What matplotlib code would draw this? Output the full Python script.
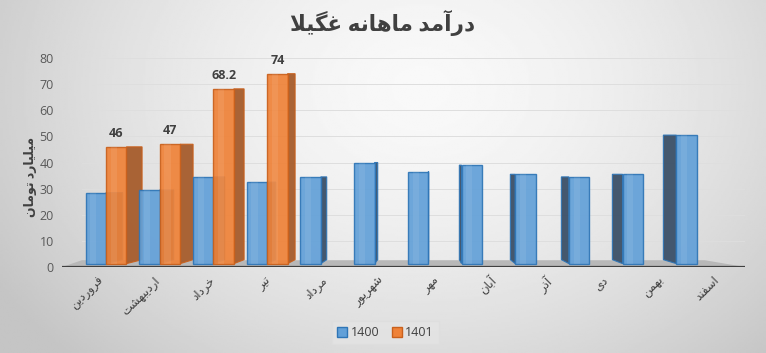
import numpy as np
import matplotlib
matplotlib.use("Agg")
import matplotlib.pyplot as plt
from matplotlib.patches import Polygon, Patch

plt.rcParams['font.family'] = ['Open Sans', 'DejaVu Sans']

# matplotlib has no arabic shaping, so map letters to presentation forms by hand
FORMS = {
    'ا': ('\uFE8D', '\uFE8E'), 'آ': ('\uFE81', '\uFE82'),
    'د': ('\uFEA9', '\uFEAA'), 'ذ': ('\uFEAB', '\uFEAC'),
    'ر': ('\uFEAD', '\uFEAE'), 'ز': ('\uFEAF', '\uFEB0'),
    'و': ('\uFEED', '\uFEEE'),
    'ب': ('\uFE8F', '\uFE90', '\uFE91', '\uFE92'),
    'ت': ('\uFE95', '\uFE96', '\uFE97', '\uFE98'),
    'خ': ('\uFEA5', '\uFEA6', '\uFEA7', '\uFEA8'),
    'س': ('\uFEB1', '\uFEB2', '\uFEB3', '\uFEB4'),
    'ش': ('\uFEB5', '\uFEB6', '\uFEB7', '\uFEB8'),
    'غ': ('\uFECD', '\uFECE', '\uFECF', '\uFED0'),
    'ف': ('\uFED1', '\uFED2', '\uFED3', '\uFED4'),
    'ل': ('\uFEDD', '\uFEDE', '\uFEDF', '\uFEE0'),
    'م': ('\uFEE1', '\uFEE2', '\uFEE3', '\uFEE4'),
    'ن': ('\uFEE5', '\uFEE6', '\uFEE7', '\uFEE8'),
    'ه': ('\uFEE9', '\uFEEA', '\uFEEB', '\uFEEC'),
    'ی': ('\uFBFC', '\uFBFD', '\uFBFE', '\uFBFF'),
    'ي': ('\uFEF1', '\uFEF2', '\uFEF3', '\uFEF4'),
    'گ': ('\uFB92', '\uFB93', '\uFB94', '\uFB95'),
}


def fa(s):
    out = []
    i = 0
    while i < len(s):
        c = s[i]
        if c not in FORMS:
            out.append(c)
            i += 1
            continue
        prev = s[i - 1] if i > 0 else ''
        jp = prev in FORMS and len(FORMS[prev]) == 4
        if c == 'ل' and i + 1 < len(s) and s[i + 1] in 'اآ':
            lig = ('\uFEFB', '\uFEFC') if s[i + 1] == 'ا' else ('\uFEF5', '\uFEF6')
            out.append(lig[1] if jp else lig[0])
            i += 2
            continue
        nxt = s[i + 1] if i + 1 < len(s) else ''
        jn = len(FORMS[c]) == 4 and nxt in FORMS
        f = FORMS[c]
        if jp and jn:
            out.append(f[3])
        elif jp:
            out.append(f[1])
        elif jn:
            out.append(f[2])
        else:
            out.append(f[0])
        i += 1
    return ''.join(out)[::-1]


months = ['فروردین', 'اردیبهشت', 'خرداد', 'تیر', 'مرداد', 'شهریور',
          'مهر', 'آبان', 'آذر', 'دی', 'بهمن', 'اسفند']
v1400 = [28.5, 29.5, 34.5, 32.5, 34.5, 40, 36.5, 39, 35.5, 34.5, 35.5, 50.5]
v1401 = [46, 47, 68.2, 74]
series = ['1400', '1401']
title = 'درآمد ماهانه غگیلا'
ylabel = 'میلیارد تومان'

blue, blue_e, blue_s = '#62a0d8', '#2e75b6', '#3b5068'
orng, orng_e, orng_s = '#ef8238', '#c9601c', '#a65c2c'

fig = plt.figure(figsize=(7.66, 3.53), dpi=100)

# background gradient
bg = fig.add_axes([0, 0, 1, 1], zorder=-10)
X, Y = np.meshgrid(np.linspace(0, 1, 400), np.linspace(0, 1, 200))
d = np.sqrt(((X - 0.55) / 0.6) ** 2 + ((Y - 0.75) / 1.0) ** 2)
g = np.clip(0.975 - 0.18 * d ** 1.6, 0.77, 1)
bg.imshow(g, extent=[0, 1, 0, 1], origin='lower', aspect='auto', cmap='gray', vmin=0, vmax=1)
bg.axis('off')

ax = fig.add_axes([0.081, 0.2436, 0.8916, 0.592])
ax.patch.set_alpha(0)
ax.set_xlim(-0.82, 11.9)
ax.set_ylim(0, 80)
for s in ax.spines.values():
    s.set_visible(False)

for yv in range(10, 81, 10):
    ax.plot([-0.45, 11.9], [yv, yv], color='#dedede', lw=0.7, zorder=0)

# floor
ax.add_patch(Polygon([(-0.82, 0), (11.9, 0), (11.15, 2.6), (-0.45, 2.6)],
                     closed=True, fc='#b8b8b8', ec='none', zorder=1))
ax.plot([-0.82, 11.9], [0, 0], color='#404040', lw=1.6, zorder=1.5)

x = np.arange(len(months))
w = 0.38
base = 1.3
VP = 6.0


def draw_bar(xc, h, fc, ec, sc):
    dd = 0.05 * (VP - xc)
    xe = xc + w / 2 if dd > 0 else xc - w / 2
    ax.add_patch(Polygon([(xe, base), (xe + dd, base + 1.5), (xe + dd, h), (xe, h)],
                         closed=True, fc=sc, ec=ec, lw=0.8, alpha=0.95, zorder=2))
    ax.bar(xc, h - base, w, bottom=base, color=fc, edgecolor=ec, lw=1.0, alpha=0.92, zorder=3)
    ax.bar(xc - w * 0.12, h - base, w * 0.3, bottom=base, color='white', alpha=0.08,
           lw=0, zorder=3.5)


for xi, v in zip(x, v1400):
    draw_bar(xi - w / 2, v, blue, blue_e, blue_s)
for xi, v in zip(x[:len(v1401)], v1401):
    draw_bar(xi + w / 2, v, orng, orng_e, orng_s)
    ax.annotate(f'{v:g}', (xi + w / 2, v), xytext=(0, 5), textcoords='offset points',
                ha='center', va='bottom', fontsize=9, fontweight='bold', color='#404040')

ax.set_yticks(range(0, 81, 10))
ax.tick_params(axis='y', length=0, labelsize=9, labelcolor='#595959', pad=6)
ax.set_xticks(x * 1.043 - 0.17)
ax.set_xticklabels([fa(m) for m in months], rotation=45, ha='right', va='top',
                   rotation_mode='anchor', fontsize=8.5, color='#404040')
ax.tick_params(axis='x', length=0, pad=5)

fig.text(0.5, 0.936, fa(title), ha='center', va='center', fontsize=15.5,
         fontweight='bold', color='#404040')
fig.text(0.04, 0.50, fa(ylabel), rotation=90, ha='center', va='center', fontsize=9,
         fontweight='bold', color='#404040')

handles = [Patch(fc=blue, ec=blue_e), Patch(fc=orng, ec=orng_e)]
leg = fig.legend(handles, series, loc='center', bbox_to_anchor=(0.503, 0.057), ncol=2,
                 fontsize=9, handlelength=0.8, handleheight=0.8, handletextpad=0.3,
                 columnspacing=1.0, fancybox=False, frameon=True)
leg.get_frame().set_facecolor('#e4e4e4')
leg.get_frame().set_edgecolor('#dedede')
for t in leg.get_texts():
    t.set_color('#404040')

fig.savefig('out.png', dpi=100)
